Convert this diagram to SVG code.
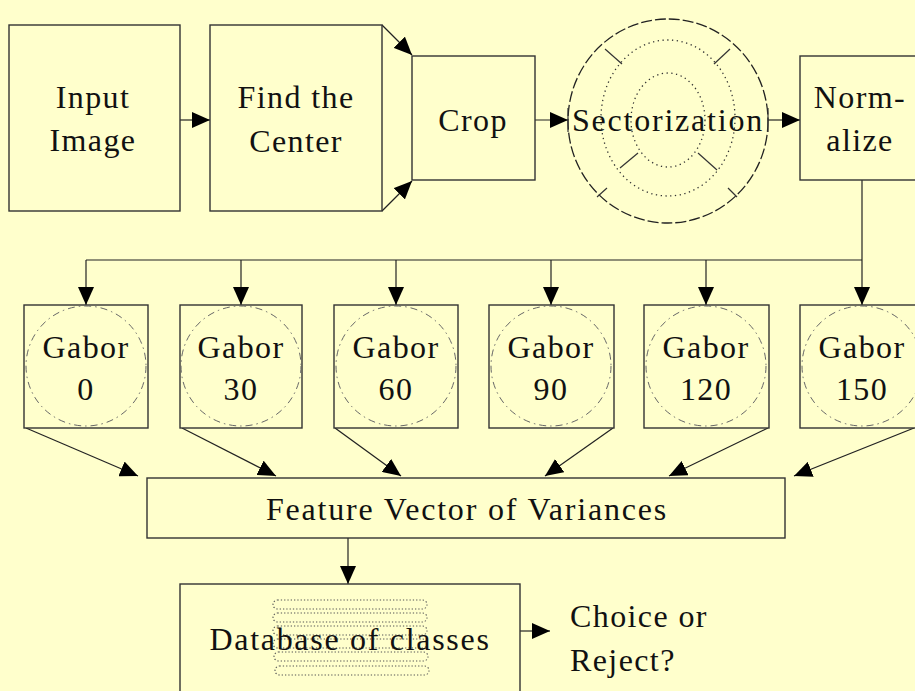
<svg xmlns="http://www.w3.org/2000/svg" width="915" height="691" viewBox="0 0 915 691">
<style>
.bg{fill:#FFFFCC}
.box{fill:#FFFFCC;stroke:#333;stroke-width:1.4}
.t{font-family:"Liberation Serif","Times New Roman",serif;font-size:32px;fill:#111;text-anchor:middle;letter-spacing:1.4px}
.c{fill:none;stroke:#222;stroke-width:1.2}
.a{marker-end:url(#ah)}
.outer{fill:none;stroke:#222;stroke-width:1.3;stroke-dasharray:11 3}
.dot{fill:none;stroke:#333;stroke-width:1.3;stroke-dasharray:1.3 3.5}
.tick{stroke:#333;stroke-width:1.2}
.gc{fill:none;stroke:#666;stroke-width:1;stroke-dasharray:7 4 1.5 4}
.db{fill:none;stroke:#555;stroke-width:1.1;stroke-dasharray:1.3 2}
</style>
<defs>
<marker id="ah" markerUnits="userSpaceOnUse" markerWidth="18" markerHeight="16" refX="18" refY="8" orient="auto">
<path d="M0,0 L18,8 L0,16 z" fill="#000"/>
</marker>
</defs>
<rect class="bg" x="0" y="0" width="915" height="691"/>

<g id="connectors">
<line class="c a" x1="180" y1="120" x2="210" y2="120"/>
<line class="c a" x1="382" y1="25" x2="412" y2="55"/>
<line class="c a" x1="382" y1="211" x2="412" y2="181"/>
<line class="c a" x1="535" y1="120" x2="568" y2="120"/>
<line class="c a" x1="768" y1="120" x2="800" y2="120"/>
<polyline class="c" points="862,180 862,260"/>
<line class="c" x1="86" y1="260" x2="862" y2="260"/>
<line class="c a" x1="86" y1="260" x2="86" y2="305"/>
<line class="c a" x1="241" y1="260" x2="241" y2="305"/>
<line class="c a" x1="396" y1="260" x2="396" y2="305"/>
<line class="c a" x1="551" y1="260" x2="551" y2="305"/>
<line class="c a" x1="706" y1="260" x2="706" y2="305"/>
<line class="c a" x1="862" y1="260" x2="862" y2="305"/>
<line class="c a" x1="26" y1="428" x2="138" y2="476"/>
<line class="c a" x1="182" y1="428" x2="276" y2="476"/>
<line class="c a" x1="335" y1="428" x2="401" y2="476"/>
<line class="c a" x1="613" y1="428" x2="545" y2="476"/>
<line class="c a" x1="768" y1="428" x2="669" y2="476"/>
<line class="c a" x1="914" y1="428" x2="794" y2="476"/>
<line class="c a" x1="348" y1="538" x2="348" y2="584"/>
<line class="c a" x1="520" y1="631" x2="550" y2="631"/>
</g>

<g id="input-image">
<rect class="box" x="9" y="25" width="171" height="186"/>
<text class="t" x="93" y="108">Input</text>
<text class="t" x="93" y="151">Image</text>
</g>

<g id="find-center">
<rect class="box" x="210" y="25" width="172" height="186"/>
<text class="t" x="296" y="108">Find the</text>
<text class="t" x="296" y="152">Center</text>
</g>

<g id="crop">
<rect class="box" x="412" y="56" width="123" height="124"/>
<text class="t" x="473" y="131">Crop</text>
</g>

<g id="sectorization">
<ellipse class="outer" cx="668" cy="121" rx="100" ry="102"/>
<ellipse class="dot" cx="668" cy="118" rx="67" ry="78"/>
<ellipse class="dot" cx="668" cy="120" rx="37" ry="47"/>
<line class="tick" x1="605" y1="49" x2="622" y2="64"/>
<line class="tick" x1="730" y1="49" x2="714" y2="64"/>
<line class="tick" x1="638" y1="153" x2="620" y2="168"/>
<line class="tick" x1="607" y1="188" x2="597" y2="197"/>
<line class="tick" x1="698" y1="153" x2="717" y2="170"/>
<line class="tick" x1="728" y1="188" x2="737" y2="197"/>
<line class="tick" x1="568" y1="108" x2="568" y2="132"/>
<line class="tick" x1="768" y1="108" x2="768" y2="132"/>
<text class="t" x="668" y="131" style="letter-spacing:1.8px">Sectorization</text>
</g>

<g id="normalize">
<rect class="box" x="800" y="56" width="124" height="124"/>
<text class="t" x="860" y="108">Norm-</text>
<text class="t" x="860" y="151">alize</text>
</g>

<g id="gabor-0">
<rect class="box" x="24" y="305" width="124" height="123"/>
<circle class="gc" cx="86" cy="366" r="60"/>
<text class="t" x="86" y="358">Gabor</text>
<text class="t" x="86" y="400">0</text>
</g>
<g id="gabor-30">
<rect class="box" x="180" y="305" width="122" height="123"/>
<circle class="gc" cx="241" cy="366" r="60"/>
<text class="t" x="241" y="358">Gabor</text>
<text class="t" x="241" y="400">30</text>
</g>
<g id="gabor-60">
<rect class="box" x="334" y="305" width="124" height="123"/>
<circle class="gc" cx="396" cy="366" r="60"/>
<text class="t" x="396" y="358">Gabor</text>
<text class="t" x="396" y="400">60</text>
</g>
<g id="gabor-90">
<rect class="box" x="489" y="305" width="125" height="123"/>
<circle class="gc" cx="551" cy="366" r="60"/>
<text class="t" x="551" y="358">Gabor</text>
<text class="t" x="551" y="400">90</text>
</g>
<g id="gabor-120">
<rect class="box" x="644" y="305" width="125" height="123"/>
<circle class="gc" cx="706" cy="366" r="60"/>
<text class="t" x="706" y="358">Gabor</text>
<text class="t" x="706" y="400">120</text>
</g>
<g id="gabor-150">
<rect class="box" x="800" y="305" width="124" height="123"/>
<circle class="gc" cx="862" cy="366" r="60"/>
<text class="t" x="862" y="358">Gabor</text>
<text class="t" x="862" y="400">150</text>
</g>

<g id="feature-vector">
<rect class="box" x="147" y="478" width="638" height="60"/>
<text class="t" x="467" y="520" style="letter-spacing:1.8px">Feature Vector of Variances</text>
</g>

<g id="database">
<rect class="box" x="180" y="584" width="340" height="120"/>
<rect class="db" x="273" y="600" width="154" height="9" rx="4.5"/>
<rect class="db" x="273" y="613" width="154" height="9" rx="4.5"/>
<rect class="db" x="273" y="626" width="154" height="9" rx="4.5"/>
<rect class="db" x="273" y="639" width="154" height="9" rx="4.5"/>
<rect class="db" x="274" y="652" width="154" height="9" rx="4.5"/>
<rect class="db" x="275" y="666" width="154" height="9" rx="4.5"/>
<text class="t" x="350" y="650" style="letter-spacing:1.7px">Database of classes</text>
</g>

<g id="choice">
<text class="t" x="570" y="627" style="text-anchor:start">Choice or</text>
<text class="t" x="570" y="671" style="text-anchor:start">Reject?</text>
</g>
</svg>
